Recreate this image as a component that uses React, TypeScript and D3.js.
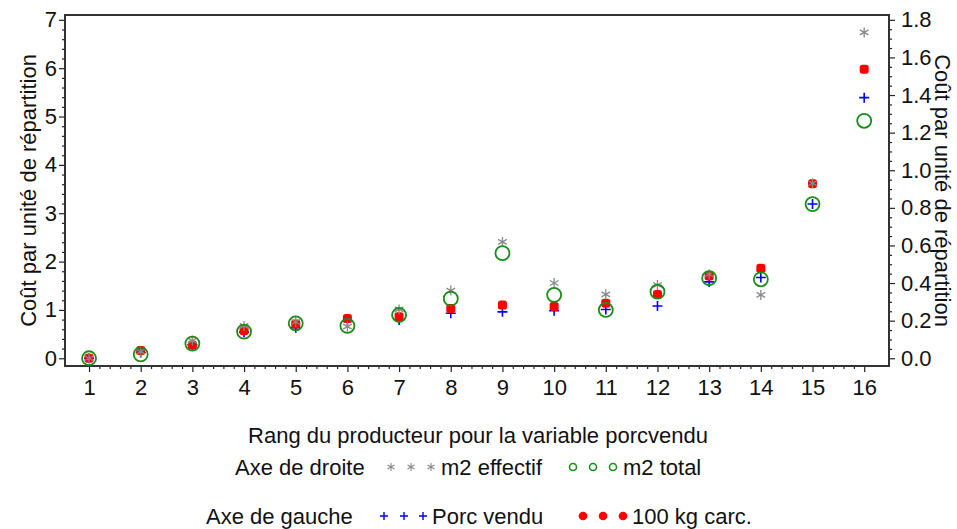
import React, { useEffect, useRef } from "react";
import * as d3 from "d3";

const ranks = [1, 2, 3, 4, 5, 6, 7, 8, 9, 10, 11, 12, 13, 14, 15, 16];
// left axis series
const porcVendu = [0.0, 0.12, 0.28, 0.54, 0.63, 0.78, 0.79, 0.93, 0.96, 0.985, 1.01, 1.08, 1.58, 1.67, 3.19, 5.39];
const carc100 = [0.0, 0.16, 0.275, 0.57, 0.71, 0.82, 0.86, 1.03, 1.1, 1.07, 1.14, 1.32, 1.7, 1.86, 3.61, 5.98];
// right axis series
const m2Effectif = [0.0, 0.035, 0.094, 0.172, 0.193, 0.168, 0.26, 0.36, 0.619, 0.4, 0.34, 0.39, 0.447, 0.337, 0.931, 1.733];
const m2Total = [0.0, 0.021, 0.078, 0.142, 0.186, 0.172, 0.23, 0.317, 0.559, 0.337, 0.257, 0.354, 0.426, 0.42, 0.82, 1.263];

const leftTicks = [0, 1, 2, 3, 4, 5, 6, 7];
const rightTicks = [0, 0.2, 0.4, 0.6, 0.8, 1.0, 1.2, 1.4, 1.6, 1.8];

const yTitle = "Coût par unité de répartition";
const xTitle = "Rang du producteur pour la variable porcvendu";

const FONT = "Arial, 'Liberation Sans', sans-serif";
const FS = 22;

export default function App() {
  const ref = useRef<SVGSVGElement>(null);

  useEffect(() => {
    const svg = d3.select(ref.current);
    svg.selectAll("*").remove();

    const L = 65, R = 889, T = 15, B = 366;
    const k = 7 / 1.8;
    const x = d3.scaleLinear().domain([0.535, 16.48]).range([L, R]);
    const yL = d3.scaleLinear().domain([-0.16, 7.1]).range([B, T]);
    const yR = d3.scaleLinear().domain([-0.16 / k, 7.1 / k]).range([B, T]);

    const g = svg.append("g").attr("font-family", FONT);

    const styleAxis = (sel: any) => {
      sel.select(".domain").remove();
      sel.selectAll("line").attr("stroke", "#222").attr("stroke-width", 1.2);
      sel.selectAll("text").attr("font-size", FS).attr("font-family", FONT).attr("fill", "#111");
    };

    // minor ticks
    const xMinor = d3.range(1, 16.001, 0.2).filter((v) => Math.abs(v - Math.round(v)) > 1e-6);
    const lMinor = d3.range(0, 7.001, 0.2).filter((v) => Math.abs(v - Math.round(v)) > 1e-6);
    const rMinor = d3.range(0, 1.8001, 0.05).filter((v) => Math.abs(v / 0.2 - Math.round(v / 0.2)) > 1e-6);

    g.append("g").attr("transform", `translate(0,${B})`)
      .call(d3.axisBottom(x).tickValues(xMinor).tickSize(3).tickFormat(() => ""))
      .call(styleAxis);
    g.append("g").attr("transform", `translate(${L},0)`)
      .call(d3.axisLeft(yL).tickValues(lMinor).tickSize(3).tickFormat(() => ""))
      .call(styleAxis);
    g.append("g").attr("transform", `translate(${R},0)`)
      .call(d3.axisRight(yR).tickValues(rMinor).tickSize(3).tickFormat(() => ""))
      .call(styleAxis);

    // major axes
    g.append("g").attr("transform", `translate(0,${B})`)
      .call(d3.axisBottom(x).tickValues(ranks).tickSize(6).tickPadding(7).tickFormat(d3.format("d")))
      .call(styleAxis);
    g.append("g").attr("transform", `translate(${L},0)`)
      .call(d3.axisLeft(yL).tickValues(leftTicks).tickSize(6).tickPadding(2).tickFormat(d3.format("d")))
      .call(styleAxis);
    g.append("g").attr("transform", `translate(${R},0)`)
      .call(d3.axisRight(yR).tickValues(rightTicks).tickSize(6).tickPadding(6).tickFormat(d3.format(".1f")))
      .call(styleAxis);

    // frame
    g.append("rect").attr("x", L).attr("y", T).attr("width", R - L).attr("height", B - T)
      .attr("fill", "none").attr("stroke", "#333").attr("stroke-width", 2);

    // axis titles
    g.append("text").attr("transform", `translate(28,${(T + B) / 2}) rotate(-90)`)
      .attr("text-anchor", "middle").attr("dy", "0.35em").attr("font-size", FS).attr("fill", "#111").text(yTitle);
    g.append("text").attr("transform", `translate(943,${(T + B) / 2}) rotate(90)`)
      .attr("text-anchor", "middle").attr("dy", "0.35em").attr("font-size", FS).attr("fill", "#111").text(yTitle);
    g.append("text").attr("x", (L + R) / 2 + 1).attr("y", 443)
      .attr("text-anchor", "middle").attr("font-size", FS).attr("fill", "#111").text(xTitle);

    // marker drawers
    const plus = (sel: any, cx: number, cy: number, h: number, w: number) => {
      sel.append("path").attr("d", `M${cx - h},${cy}H${cx + h}M${cx},${cy - h}V${cy + h}`)
        .attr("stroke", "#0000ff").attr("stroke-width", w).attr("fill", "none");
    };
    const dot = (sel: any, cx: number, cy: number, s: number) => {
      sel.append("rect").attr("x", cx - s / 2).attr("y", cy - s / 2).attr("width", s).attr("height", s)
        .attr("rx", s * 0.3).attr("fill", "#ff0000");
    };
    const star = (sel: any, cx: number, cy: number, h: number, w: number) => {
      const dx = h * Math.cos(Math.PI / 6), dy = h * Math.sin(Math.PI / 6);
      sel.append("path")
        .attr("d", `M${cx},${cy - h}V${cy + h}M${cx - dx},${cy - dy}L${cx + dx},${cy + dy}M${cx - dx},${cy + dy}L${cx + dx},${cy - dy}`)
        .attr("stroke", "#8a8a8a").attr("stroke-width", w).attr("fill", "none");
    };
    const ring = (sel: any, cx: number, cy: number, r: number, w: number) => {
      sel.append("circle").attr("cx", cx).attr("cy", cy).attr("r", r)
        .attr("fill", "none").attr("stroke", "#1a8c1a").attr("stroke-width", w);
    };

    const pts = g.append("g");
    ranks.forEach((r, i) => plus(pts, x(r), yL(porcVendu[i]), 5, 1.6));
    ranks.forEach((r, i) => dot(pts, x(r), yL(carc100[i]), 9));
    ranks.forEach((r, i) => star(pts, x(r), yR(m2Effectif[i]), 5, 1.3));
    ranks.forEach((r, i) => ring(pts, x(r), yR(m2Total[i]), 7, 1.8));

    // legend
    const lg = g.append("g").attr("font-size", FS).attr("fill", "#111");
    lg.append("text").attr("x", 235).attr("y", 475).text("Axe de droite");
    [391, 411, 431].forEach((cx) => star(lg, cx, 467, 4, 1.1));
    lg.append("text").attr("x", 441).attr("y", 475).text("m2 effectif");
    [573, 593, 613].forEach((cx) => ring(lg, cx, 467, 3.5, 1.5));
    lg.append("text").attr("x", 623).attr("y", 475).text("m2 total");

    lg.append("text").attr("x", 206).attr("y", 524).text("Axe de gauche");
    [384, 404, 423].forEach((cx) => plus(lg, cx, 516, 4, 1.4));
    lg.append("text").attr("x", 432).attr("y", 524).text("Porc vendu");
    [583, 603, 623].forEach((cx) => {
      lg.append("circle").attr("cx", cx).attr("cy", 516).attr("r", 4.3).attr("fill", "#ff0000");
    });
    lg.append("text").attr("x", 632).attr("y", 524).text("100 kg carc.");
  }, []);

  return (
    <svg
      ref={ref}
      width={957}
      height={529}
      style={{ position: "absolute", left: 0, top: 0, background: "#fff" }}
    />
  );
}
